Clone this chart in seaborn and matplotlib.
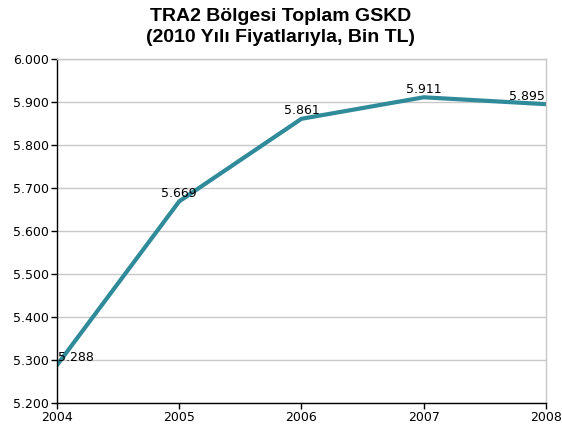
import numpy as np
import pandas as pd
import matplotlib
matplotlib.use('Agg')
import matplotlib.pyplot as plt
import seaborn as sns
from matplotlib.ticker import FuncFormatter

# --- données ---
years = [2004, 2005, 2006, 2007, 2008]
gskd = [5.288, 5.669, 5.861, 5.911, 5.895]
labels = ['5.288', '5.669', '5.861', '5.911', '5.895']
y_ticks = [5.2, 5.3, 5.4, 5.5, 5.6, 5.7, 5.8, 5.9, 6.0]

df = pd.DataFrame({'yil': years, 'gskd': gskd})

sns.set_style('white')
plt.rcParams['font.family'] = ['DejaVu Sans']
plt.rcParams['text.color'] = 'black'

fig = plt.figure(figsize=(5.62, 4.34), dpi=100)
ax = fig.add_axes([0.1014, 0.0714, 0.870, 0.7926])

sns.lineplot(data=df, x='yil', y='gskd', ax=ax, color='#2f8a9a', linewidth=3)

ax.set_xlim(2004, 2008)
ax.set_ylim(5.2, 6.0)
ax.set_xticks(years)
ax.set_yticks(y_ticks)
ax.yaxis.set_major_formatter(FuncFormatter(lambda v, p: f'{v:.3f}'))
ax.grid(axis='y', color='#c8c8c8', linewidth=1)
ax.set_axisbelow(True)
ax.set_xlabel('')
ax.set_ylabel('')

for side in ['top', 'right']:
    ax.spines[side].set_color('#c8c8c8')
    ax.spines[side].set_linewidth(1)
for side in ['left', 'bottom']:
    ax.spines[side].set_color('black')
    ax.spines[side].set_linewidth(1)

ax.tick_params(axis='both', which='major', direction='out', length=4, width=1,
               color='black', labelcolor='black', labelsize=9, pad=2,
               left=True, bottom=True)

# étiquettes de données
for i, (x, y, t) in enumerate(zip(years, gskd, labels)):
    ha = 'center'
    dx = 0
    if i == 0:
        ha = 'left'
        dx = 1
    elif i == len(years) - 1:
        ha = 'right'
        dx = -1
    ax.annotate(t, (x, y), xytext=(dx, 1), textcoords='offset points',
                ha=ha, va='bottom', fontsize=9, color='black')

fig.suptitle('TRA2 Bölgesi Toplam GSKD\n(2010 Yılı Fiyatlarıyla, Bin TL)',
             x=0.5, y=0.982, fontsize=14, fontweight='bold', color='black',
             family=['Liberation Sans', 'DejaVu Sans'], linespacing=1.3)

fig.savefig('out.png', dpi=100)
